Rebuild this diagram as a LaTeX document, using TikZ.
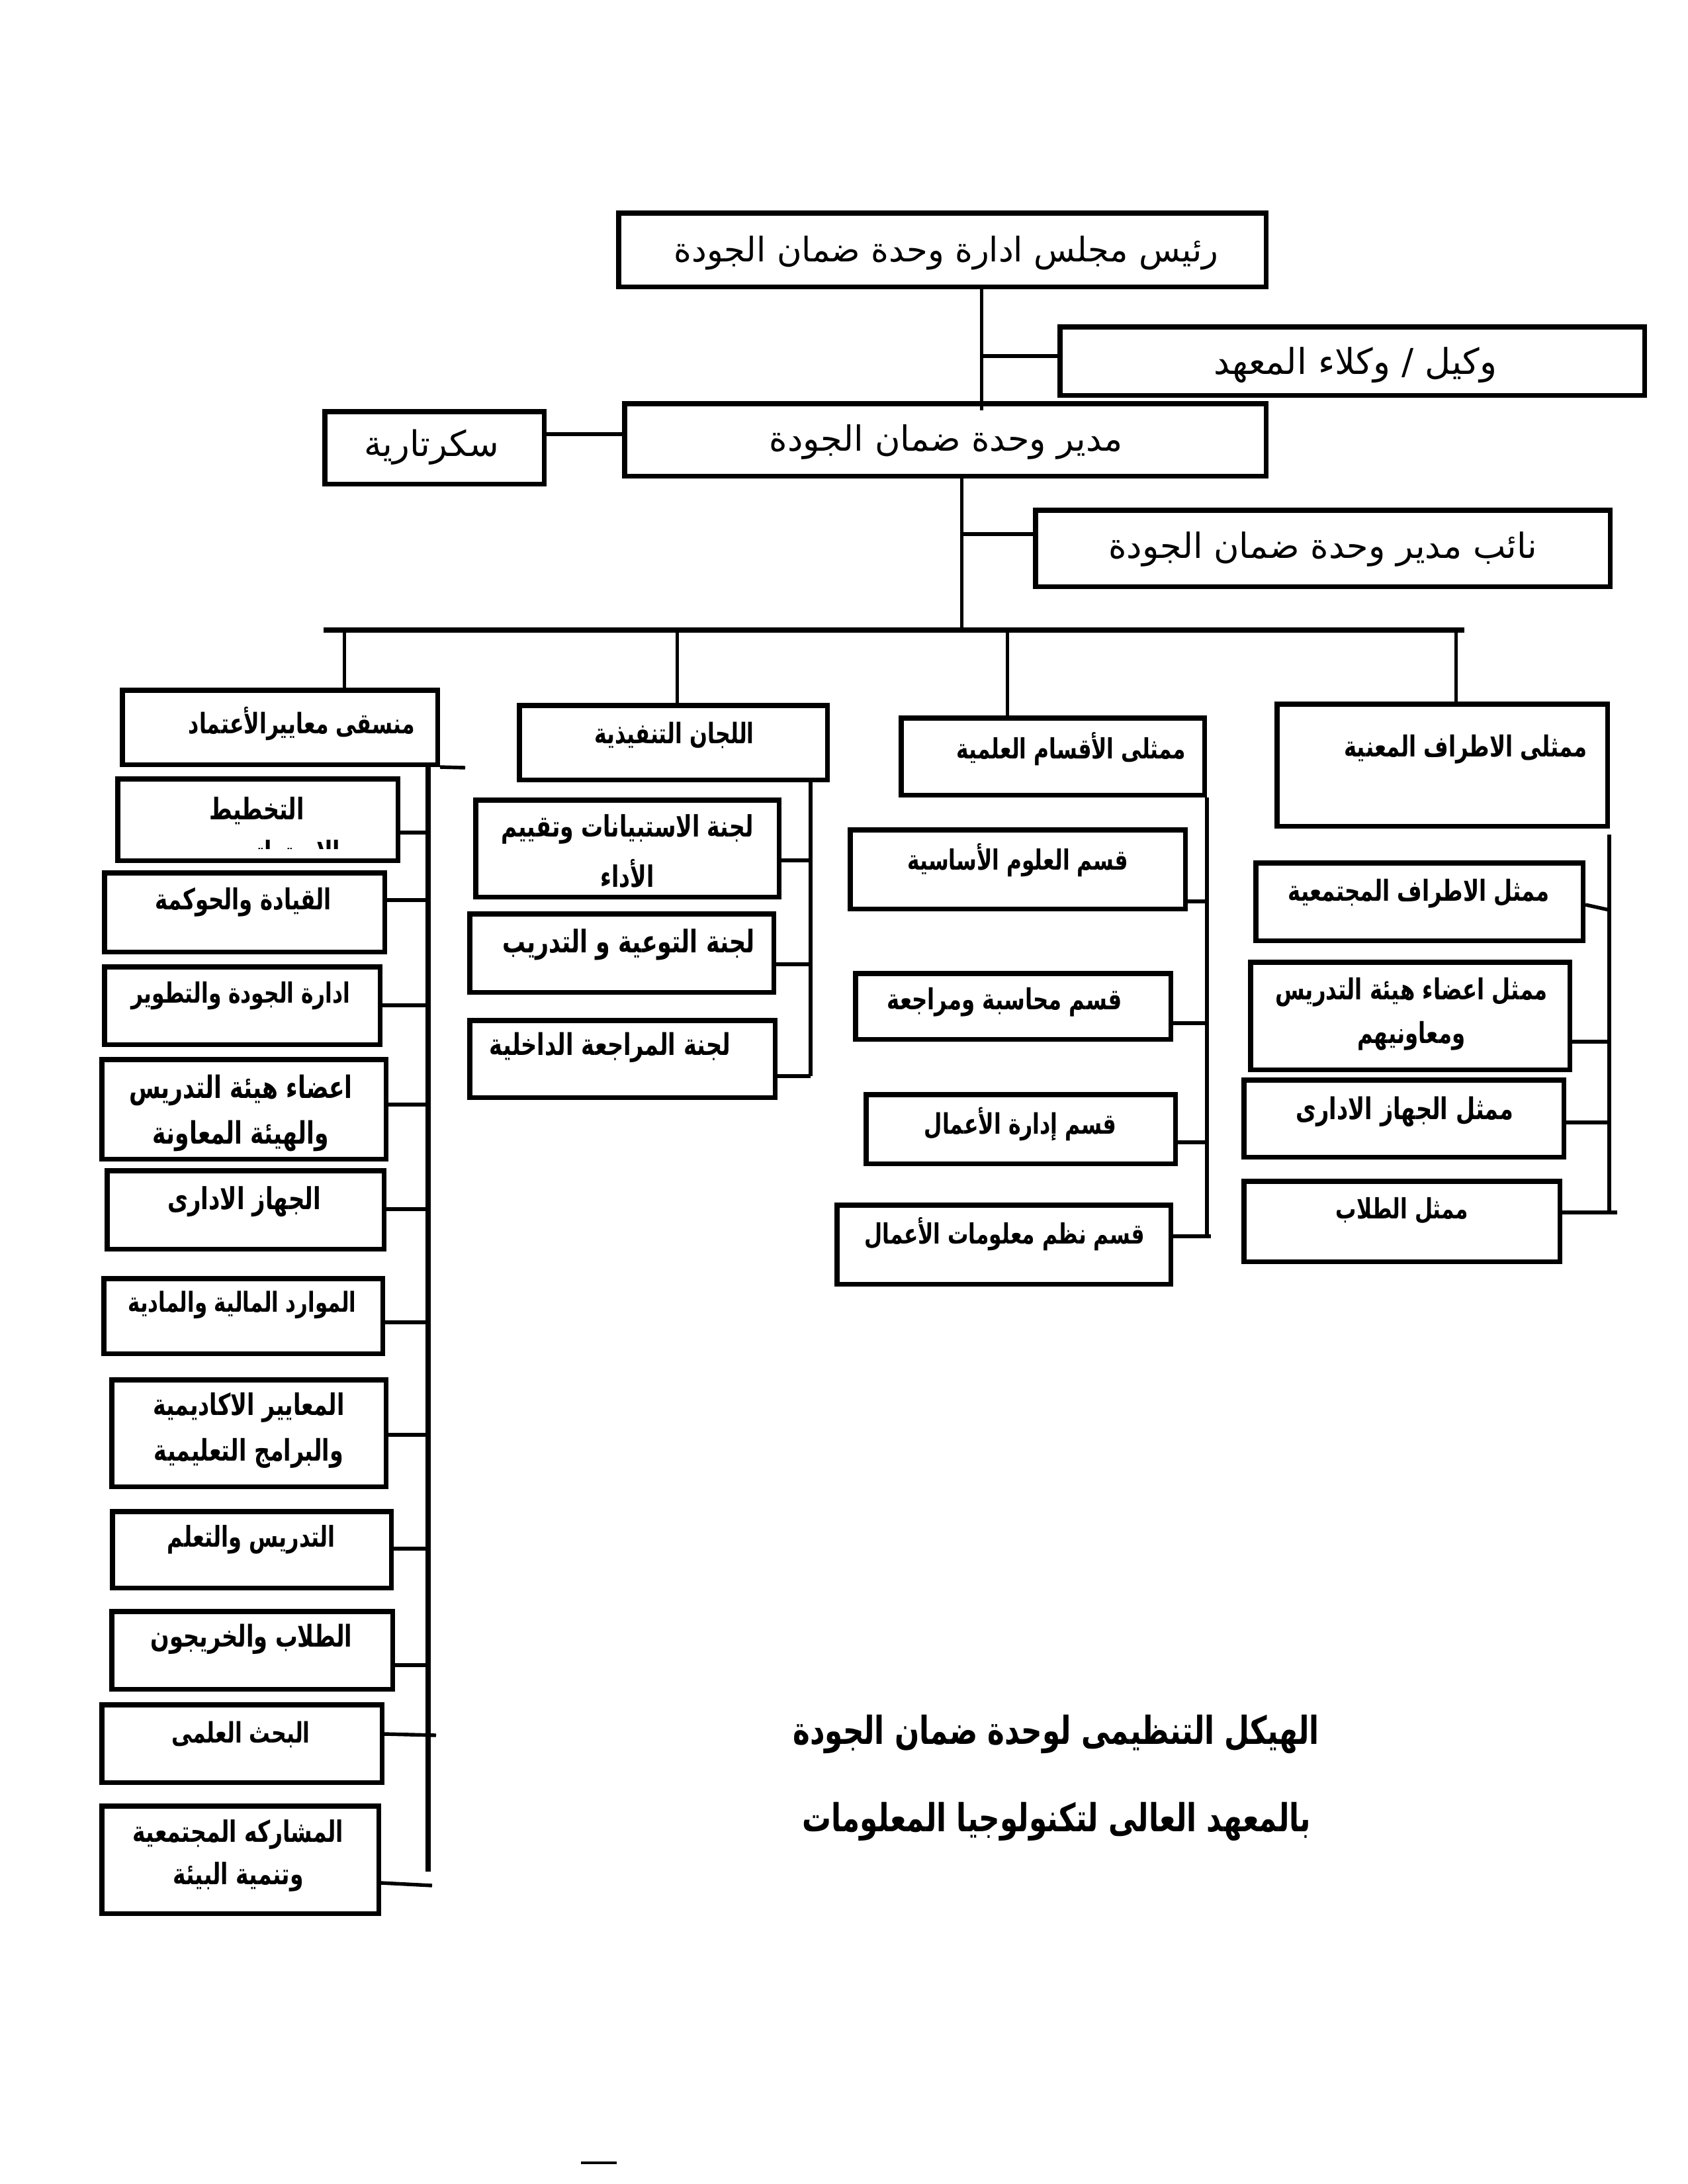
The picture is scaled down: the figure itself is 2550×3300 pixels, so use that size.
\documentclass[tikz,border=0pt]{standalone}
\usepackage{fontspec}
\TeXXeTstate=1
\newfontfamily\arabicfont[Script=Arabic]{DejaVu Sans}
\newfontfamily\arabiccond[Script=Arabic,FakeStretch=0.74]{DejaVu Sans}
\newfontfamily\arabicttl[Script=Arabic,FakeStretch=0.75]{DejaVu Sans}
\newcommand{\ftop}[1]{\fontsize{#1}{#1}\selectfont\arabicfont}
\newcommand{\fb}[1]{\fontsize{#1}{#1}\selectfont\arabiccond\bfseries}
\newcommand{\fttl}{\fontsize{14}{16}\selectfont\arabicttl\bfseries}
\newcommand{\bx}[5]{\node[boxst, minimum width={(#4-#2)*0.24pt-1.8pt}, minimum height={(#5-#3)*0.24pt-1.8pt}] (#1) at ({(#2+#4)/2},{(#3+#5)/2}) {};}
\tikzset{
  boxst/.style={draw, line width=1.8pt, rectangle, inner sep=0pt},
  txt/.style={inner sep=0pt, align=center},
  conn/.style={line width=1.3pt},
  spine/.style={line width=1.5pt},
  thinln/.style={line width=1.2pt},
  barln/.style={line width=1.92pt},
}
\begin{document}
\begin{tikzpicture}[x=0.24pt,y=-0.24pt]
\useasboundingbox (0,0) rectangle (2550,3300);
% ---------- top part
\bx{T1}{931}{318}{1917}{437}
\node[txt] (T1t) at (1430,382) {\ftop{12.3}\beginR رئيس مجلس ادارة وحدة ضمان الجودة\endR};
\bx{W}{1598}{490}{2489}{601}
\node[txt] (Wt) at (2048,552) {\ftop{12.9}\beginR وكيل / وكلاء المعهد\endR};
\bx{M}{940}{606}{1917}{723}
\node[txt] (Mt) at (1430,668) {\ftop{12.6}\beginR مدير وحدة ضمان الجودة\endR};
\bx{S}{487}{618}{826}{735}
\node[txt] (St) at (652,676) {\ftop{12.8}\beginR سكرتارية\endR};
\bx{D}{1561}{767}{2437}{890}
\node[txt] (Dt) at (1999,830) {\ftop{12.6}\beginR نائب مدير وحدة ضمان الجودة\endR};
% connectors top
\draw[thinln] (T1.south -| 1483,0) -- (1483,620);
\draw[conn] (1483,538) -- (W.west |- 0,538);
\draw[conn] (S.east |- 0,656) -- (M.west |- 0,656);
\draw[thinln] (M.south -| 1453,0) -- (1453,952);
\draw[conn] (1453,807) -- (D.west |- 0,807);
\draw[barln] (489,952) -- (2213,952);
% ---------- column 1
\bx{H1}{181}{1039}{665}{1159}
\node[txt] (H1t) at (456,1094) {\fb{10.25}\beginR منسقى معاييرالأعتماد\endR};
\bx{A1}{174}{1173}{605}{1304}
\node[txt] (A1t) at (388,1225) {\fb{10.8}\beginR التخطيط\endR};
\begin{scope}
\clip (184,1183) rectangle (595,1282);
\node[txt] (A1u) at (415,1292) {\fb{10.8}\beginR الاستراتيجي\endR};
\end{scope}
\bx{A2}{154}{1315}{585}{1442}
\node[txt] (A2t) at (368,1363) {\fb{10.5}\beginR القيادة والحوكمة\endR};
\bx{A3}{154}{1457}{578}{1582}
\node[txt] (A3t) at (364,1505) {\fb{10.15}\beginR ادارة الجودة والتطوير\endR};
\bx{A4}{150}{1597}{587}{1755}
\node[txt] (A4t) at (364,1647) {\fb{11.2}\beginR اعضاء هيئة التدريس\endR};
\node[txt] (A4u) at (364,1716) {\fb{11.2}\beginR والهيئة المعاونة\endR};
\bx{A5}{158}{1765}{584}{1891}
\node[txt] (A5t) at (369,1816) {\fb{11}\beginR الجهاز الادارى\endR};
\bx{A6}{153}{1928}{582}{2049}
\node[txt] (A6t) at (366,1972) {\fb{10}\beginR الموارد المالية والمادية\endR};
\bx{A7}{165}{2081}{587}{2250}
\node[txt] (A7t) at (376,2127) {\fb{10.8}\beginR المعايير الاكاديمية\endR};
\node[txt] (A7u) at (376,2196) {\fb{10.8}\beginR والبرامج التعليمية\endR};
\bx{A8}{166}{2280}{595}{2403}
\node[txt] (A8t) at (380,2326) {\fb{10.4}\beginR التدريس والتعلم\endR};
\bx{A9}{165}{2431}{597}{2556}
\node[txt] (A9t) at (380,2477) {\fb{10.9}\beginR الطلاب والخريجون\endR};
\bx{A10}{150}{2572}{581}{2697}
\node[txt] (A10t) at (364,2621) {\fb{10.25}\beginR البحث العلمى\endR};
\bx{A11}{150}{2725}{576}{2895}
\node[txt] (A11t) at (360,2772) {\fb{10.7}\beginR المشاركه المجتمعية\endR};
\node[txt] (A11u) at (360,2836) {\fb{10.7}\beginR وتنمية البيئة\endR};
\draw[thinln] (520,952) -- (H1.north -| 520,0);
\draw[conn] (H1.south east) -- (703,1160);
\draw[line width=1.9pt] (647,1159) -- (647,2828);
\draw[conn] (A1.east |- 0,1258) -- (647,1258);
\draw[conn] (A2.east |- 0,1360) -- (647,1360);
\draw[conn] (A3.east |- 0,1519) -- (647,1519);
\draw[conn] (A4.east |- 0,1669) -- (647,1669);
\draw[conn] (A5.east |- 0,1827) -- (647,1827);
\draw[conn] (A6.east |- 0,1998) -- (647,1998);
\draw[conn] (A7.east |- 0,2168) -- (647,2168);
\draw[conn] (A8.east |- 0,2340) -- (647,2340);
\draw[conn] (A9.east |- 0,2516) -- (647,2516);
\draw[conn] (A10.east |- 0,2620) -- (659,2622);
\draw[conn] (A11.east |- 0,2845) -- (653,2849);
% ---------- column 2
\bx{H2}{781}{1062}{1254}{1182}
\node[txt] (H2t) at (1019,1111) {\fb{10.25}\beginR اللجان التنفيذية\endR};
\bx{B1}{715}{1205}{1181}{1359}
\node[txt] (B1t) at (948,1253) {\fb{10.7}\beginR لجنة الاستبيانات وتقييم\endR};
\node[txt] (B1u) at (948,1320) {\fb{10.7}\beginR الأداء\endR};
\bx{B2}{706}{1377}{1173}{1503}
\node[txt] (B2t) at (950,1427) {\fb{11.3}\beginR لجنة التوعية و التدريب\endR};
\bx{B3}{706}{1538}{1175}{1662}
\node[txt] (B3t) at (922,1583) {\fb{10.9}\beginR لجنة المراجعة الداخلية\endR};
\draw[thinln] (1023,952) -- (H2.north -| 1023,0);
\draw[spine] (H2.south -| 1225,0) -- (1225,1626);
\draw[conn] (B1.east |- 0,1300) -- (1225,1300);
\draw[conn] (B2.east |- 0,1457) -- (1225,1457);
\draw[conn] (B3.east |- 0,1626) -- (1225,1626);
% ---------- column 3
\bx{H3}{1358}{1081}{1824}{1205}
\node[txt] (H3t) at (1619,1132) {\fb{10.15}\beginR ممثلى الأقسام العلمية\endR};
\bx{C1}{1281}{1250}{1795}{1377}
\node[txt] (C1t) at (1538,1300) {\fb{10.15}\beginR قسم العلوم الأساسية\endR};
\bx{C2}{1289}{1467}{1773}{1574}
\node[txt] (C2t) at (1518,1514) {\fb{10.5}\beginR قسم محاسبة ومراجعة\endR};
\bx{C3}{1305}{1650}{1780}{1762}
\node[txt] (C3t) at (1542,1699) {\fb{10.25}\beginR قسم إدارة الأعمال\endR};
\bx{C4}{1261}{1817}{1773}{1944}
\node[txt] (C4t) at (1518,1865) {\fb{10.15}\beginR قسم نظم معلومات الأعمال\endR};
\draw[thinln] (1522,952) -- (H3.north -| 1522,0);
\draw[spine] (H3.south -| 1824,0) -- (1824,1871);
\draw[conn] (C1.east |- 0,1362) -- (1824,1362);
\draw[conn] (C2.east |- 0,1546) -- (1824,1546);
\draw[conn] (C3.east |- 0,1726) -- (1824,1726);
\draw[conn] (C4.east |- 0,1868) -- (1830,1868);
% ---------- column 4
\bx{H4}{1926}{1060}{2433}{1252}
\node[txt] (H4t) at (2215,1132) {\fb{10.5}\beginR ممثلى الاطراف المعنية\endR};
\bx{E1}{1894}{1300}{2396}{1425}
\node[txt] (E1t) at (2144,1350) {\fb{10.5}\beginR ممثل الاطراف المجتمعية\endR};
\bx{E2}{1886}{1450}{2376}{1620}
\node[txt] (E2t) at (2133,1499) {\fb{10.5}\beginR ممثل اعضاء هيئة التدريس\endR};
\node[txt] (E2u) at (2133,1565) {\fb{10.5}\beginR ومعاونيهم\endR};
\bx{E3}{1876}{1628}{2367}{1752}
\node[txt] (E3t) at (2123,1680) {\fb{10.9}\beginR ممثل الجهاز الادارى\endR};
\bx{E4}{1876}{1781}{2361}{1910}
\node[txt] (E4t) at (2119,1829) {\fb{10.15}\beginR ممثل الطلاب\endR};
\draw[thinln] (2200,952) -- (H4.north -| 2200,0);
\draw[spine] (2432,1261) -- (2432,1832);
\draw[conn] (E1.east |- 0,1367) -- (2432,1375);
\draw[conn] (E2.east |- 0,1574) -- (2432,1574);
\draw[conn] (E3.east |- 0,1696) -- (2432,1696);
\draw[conn] (E4.east |- 0,1832) -- (2444,1832);
% ---------- title
\node[txt] (title1) at (1596,2620) {\fttl\beginR الهيكل التنظيمى لوحدة ضمان الجودة\endR};
\node[txt] (title2) at (1597,2752) {\fttl\beginR بالمعهد العالى لتكنولوجيا المعلومات\endR};
\draw[line width=1pt] (878,3268) -- (932,3268);
\end{tikzpicture}
\end{document}
